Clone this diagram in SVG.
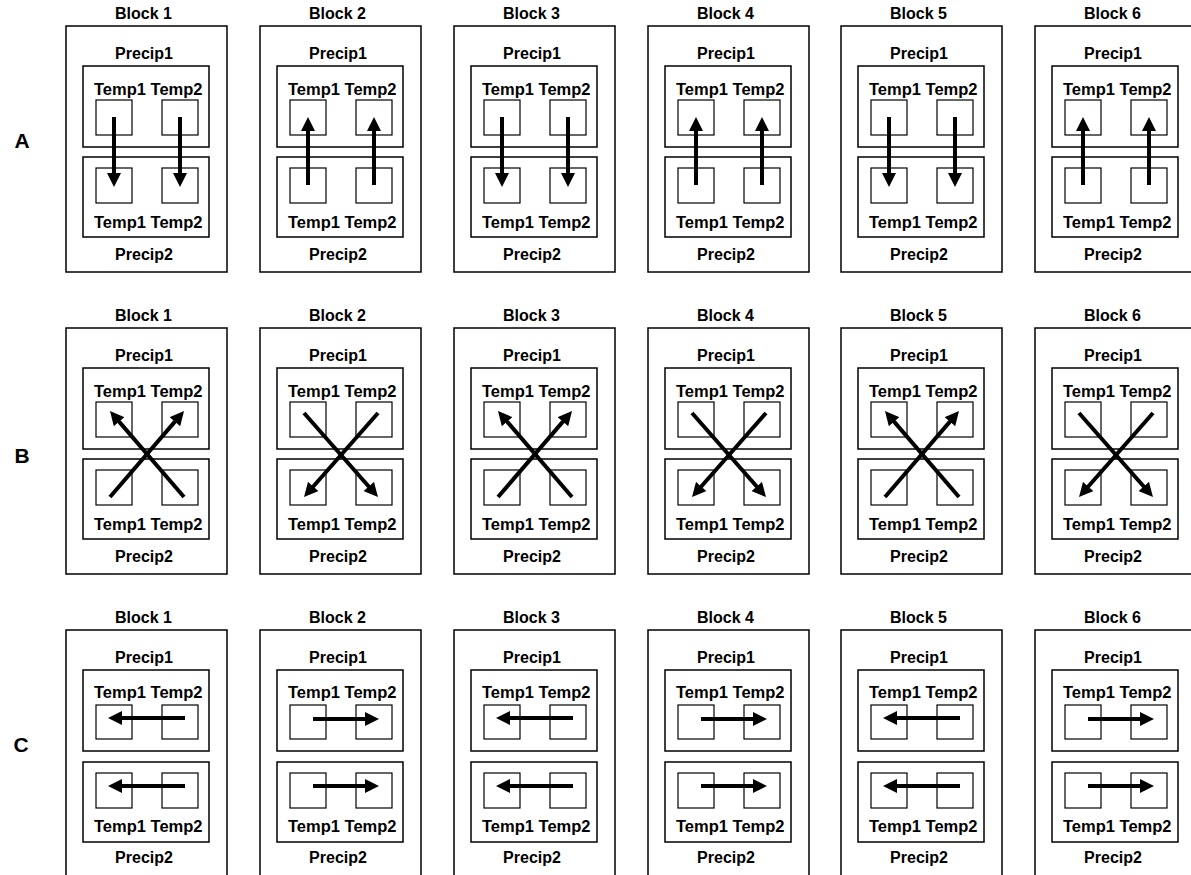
<svg xmlns="http://www.w3.org/2000/svg" width="1191" height="875" viewBox="0 0 1191 875">
<style>
.outer{fill:none;stroke:#000;stroke-width:1.5}
.box{fill:none;stroke:#000;stroke-width:1.5}
.sq{fill:none;stroke:#000;stroke-width:1.2}
.lbl{font-family:"Liberation Sans",Arial,sans-serif;font-weight:bold;font-size:16px;text-anchor:middle;fill:#000}
.tmp{font-family:"Liberation Sans",Arial,sans-serif;font-weight:bold;font-size:16.5px;fill:#000}
.row{font-family:"Liberation Sans",Arial,sans-serif;font-weight:bold;font-size:21px;text-anchor:middle;fill:#000}
.arr{fill:none;stroke:#000;stroke-width:4;marker-end:url(#ah)}
</style>
<defs>
<marker id="ah" markerUnits="userSpaceOnUse" markerWidth="14" markerHeight="14" refX="6" refY="7" orient="auto">
<path d="M0,0 L14,7 L0,14 Z" fill="#000"/>
</marker>
</defs>
<rect x="0" y="0" width="1191" height="875" fill="#fff"/>

<g id="row-labels">
<text class="row" x="22" y="148">A</text>
<text class="row" x="22" y="463">B</text>
<text class="row" x="21" y="752">C</text>
</g>

<!-- Row A -->
<g id="A1" transform="translate(66,26)"><rect class="outer" x="0" y="0" width="161" height="246"/><text class="lbl" x="77.5" y="-7">Block 1</text><text class="lbl" x="78" y="33">Precip1</text><rect class="box" x="17" y="40" width="126" height="81"/><text class="tmp" x="28" y="69">Temp1 Temp2</text><rect class="sq" x="30" y="74" width="36" height="35"/><rect class="sq" x="96" y="74" width="36" height="35"/><rect class="box" x="17" y="131" width="126" height="80"/><rect class="sq" x="30" y="142" width="36" height="35"/><rect class="sq" x="96" y="142" width="36" height="35"/><text class="tmp" x="28" y="201.5">Temp1 Temp2</text><text class="lbl" x="78" y="234">Precip2</text></g>
<g id="A2" transform="translate(260,26)"><rect class="outer" x="0" y="0" width="161" height="246"/><text class="lbl" x="77.5" y="-7">Block 2</text><text class="lbl" x="78" y="33">Precip1</text><rect class="box" x="17" y="40" width="126" height="81"/><text class="tmp" x="28" y="69">Temp1 Temp2</text><rect class="sq" x="30" y="74" width="36" height="35"/><rect class="sq" x="96" y="74" width="36" height="35"/><rect class="box" x="17" y="131" width="126" height="80"/><rect class="sq" x="30" y="142" width="36" height="35"/><rect class="sq" x="96" y="142" width="36" height="35"/><text class="tmp" x="28" y="201.5">Temp1 Temp2</text><text class="lbl" x="78" y="234">Precip2</text></g>
<g id="A3" transform="translate(454,26)"><rect class="outer" x="0" y="0" width="161" height="246"/><text class="lbl" x="77.5" y="-7">Block 3</text><text class="lbl" x="78" y="33">Precip1</text><rect class="box" x="17" y="40" width="126" height="81"/><text class="tmp" x="28" y="69">Temp1 Temp2</text><rect class="sq" x="30" y="74" width="36" height="35"/><rect class="sq" x="96" y="74" width="36" height="35"/><rect class="box" x="17" y="131" width="126" height="80"/><rect class="sq" x="30" y="142" width="36" height="35"/><rect class="sq" x="96" y="142" width="36" height="35"/><text class="tmp" x="28" y="201.5">Temp1 Temp2</text><text class="lbl" x="78" y="234">Precip2</text></g>
<g id="A4" transform="translate(648,26)"><rect class="outer" x="0" y="0" width="161" height="246"/><text class="lbl" x="77.5" y="-7">Block 4</text><text class="lbl" x="78" y="33">Precip1</text><rect class="box" x="17" y="40" width="126" height="81"/><text class="tmp" x="28" y="69">Temp1 Temp2</text><rect class="sq" x="30" y="74" width="36" height="35"/><rect class="sq" x="96" y="74" width="36" height="35"/><rect class="box" x="17" y="131" width="126" height="80"/><rect class="sq" x="30" y="142" width="36" height="35"/><rect class="sq" x="96" y="142" width="36" height="35"/><text class="tmp" x="28" y="201.5">Temp1 Temp2</text><text class="lbl" x="78" y="234">Precip2</text></g>
<g id="A5" transform="translate(841,26)"><rect class="outer" x="0" y="0" width="161" height="246"/><text class="lbl" x="77.5" y="-7">Block 5</text><text class="lbl" x="78" y="33">Precip1</text><rect class="box" x="17" y="40" width="126" height="81"/><text class="tmp" x="28" y="69">Temp1 Temp2</text><rect class="sq" x="30" y="74" width="36" height="35"/><rect class="sq" x="96" y="74" width="36" height="35"/><rect class="box" x="17" y="131" width="126" height="80"/><rect class="sq" x="30" y="142" width="36" height="35"/><rect class="sq" x="96" y="142" width="36" height="35"/><text class="tmp" x="28" y="201.5">Temp1 Temp2</text><text class="lbl" x="78" y="234">Precip2</text></g>
<g id="A6" transform="translate(1035,26)"><rect class="outer" x="0" y="0" width="161" height="246"/><text class="lbl" x="77.5" y="-7">Block 6</text><text class="lbl" x="78" y="33">Precip1</text><rect class="box" x="17" y="40" width="126" height="81"/><text class="tmp" x="28" y="69">Temp1 Temp2</text><rect class="sq" x="30" y="74" width="36" height="35"/><rect class="sq" x="96" y="74" width="36" height="35"/><rect class="box" x="17" y="131" width="126" height="80"/><rect class="sq" x="30" y="142" width="36" height="35"/><rect class="sq" x="96" y="142" width="36" height="35"/><text class="tmp" x="28" y="201.5">Temp1 Temp2</text><text class="lbl" x="78" y="234">Precip2</text></g>

<!-- Row B -->
<g id="B1" transform="translate(66,328)"><rect class="outer" x="0" y="0" width="161" height="246"/><text class="lbl" x="77.5" y="-7">Block 1</text><text class="lbl" x="78" y="33">Precip1</text><rect class="box" x="17" y="40" width="126" height="81"/><text class="tmp" x="28" y="69">Temp1 Temp2</text><rect class="sq" x="30" y="74" width="36" height="35"/><rect class="sq" x="96" y="74" width="36" height="35"/><rect class="box" x="17" y="131" width="126" height="80"/><rect class="sq" x="30" y="142" width="36" height="35"/><rect class="sq" x="96" y="142" width="36" height="35"/><text class="tmp" x="28" y="201.5">Temp1 Temp2</text><text class="lbl" x="78" y="234">Precip2</text></g>
<g id="B2" transform="translate(260,328)"><rect class="outer" x="0" y="0" width="161" height="246"/><text class="lbl" x="77.5" y="-7">Block 2</text><text class="lbl" x="78" y="33">Precip1</text><rect class="box" x="17" y="40" width="126" height="81"/><text class="tmp" x="28" y="69">Temp1 Temp2</text><rect class="sq" x="30" y="74" width="36" height="35"/><rect class="sq" x="96" y="74" width="36" height="35"/><rect class="box" x="17" y="131" width="126" height="80"/><rect class="sq" x="30" y="142" width="36" height="35"/><rect class="sq" x="96" y="142" width="36" height="35"/><text class="tmp" x="28" y="201.5">Temp1 Temp2</text><text class="lbl" x="78" y="234">Precip2</text></g>
<g id="B3" transform="translate(454,328)"><rect class="outer" x="0" y="0" width="161" height="246"/><text class="lbl" x="77.5" y="-7">Block 3</text><text class="lbl" x="78" y="33">Precip1</text><rect class="box" x="17" y="40" width="126" height="81"/><text class="tmp" x="28" y="69">Temp1 Temp2</text><rect class="sq" x="30" y="74" width="36" height="35"/><rect class="sq" x="96" y="74" width="36" height="35"/><rect class="box" x="17" y="131" width="126" height="80"/><rect class="sq" x="30" y="142" width="36" height="35"/><rect class="sq" x="96" y="142" width="36" height="35"/><text class="tmp" x="28" y="201.5">Temp1 Temp2</text><text class="lbl" x="78" y="234">Precip2</text></g>
<g id="B4" transform="translate(648,328)"><rect class="outer" x="0" y="0" width="161" height="246"/><text class="lbl" x="77.5" y="-7">Block 4</text><text class="lbl" x="78" y="33">Precip1</text><rect class="box" x="17" y="40" width="126" height="81"/><text class="tmp" x="28" y="69">Temp1 Temp2</text><rect class="sq" x="30" y="74" width="36" height="35"/><rect class="sq" x="96" y="74" width="36" height="35"/><rect class="box" x="17" y="131" width="126" height="80"/><rect class="sq" x="30" y="142" width="36" height="35"/><rect class="sq" x="96" y="142" width="36" height="35"/><text class="tmp" x="28" y="201.5">Temp1 Temp2</text><text class="lbl" x="78" y="234">Precip2</text></g>
<g id="B5" transform="translate(841,328)"><rect class="outer" x="0" y="0" width="161" height="246"/><text class="lbl" x="77.5" y="-7">Block 5</text><text class="lbl" x="78" y="33">Precip1</text><rect class="box" x="17" y="40" width="126" height="81"/><text class="tmp" x="28" y="69">Temp1 Temp2</text><rect class="sq" x="30" y="74" width="36" height="35"/><rect class="sq" x="96" y="74" width="36" height="35"/><rect class="box" x="17" y="131" width="126" height="80"/><rect class="sq" x="30" y="142" width="36" height="35"/><rect class="sq" x="96" y="142" width="36" height="35"/><text class="tmp" x="28" y="201.5">Temp1 Temp2</text><text class="lbl" x="78" y="234">Precip2</text></g>
<g id="B6" transform="translate(1035,328)"><rect class="outer" x="0" y="0" width="161" height="246"/><text class="lbl" x="77.5" y="-7">Block 6</text><text class="lbl" x="78" y="33">Precip1</text><rect class="box" x="17" y="40" width="126" height="81"/><text class="tmp" x="28" y="69">Temp1 Temp2</text><rect class="sq" x="30" y="74" width="36" height="35"/><rect class="sq" x="96" y="74" width="36" height="35"/><rect class="box" x="17" y="131" width="126" height="80"/><rect class="sq" x="30" y="142" width="36" height="35"/><rect class="sq" x="96" y="142" width="36" height="35"/><text class="tmp" x="28" y="201.5">Temp1 Temp2</text><text class="lbl" x="78" y="234">Precip2</text></g>

<!-- Row C -->
<g id="C1" transform="translate(66,630)"><rect class="outer" x="0" y="0" width="161" height="246"/><text class="lbl" x="77.5" y="-7">Block 1</text><text class="lbl" x="78" y="33">Precip1</text><rect class="box" x="17" y="40" width="126" height="81"/><text class="tmp" x="28" y="68">Temp1 Temp2</text><rect class="sq" x="30" y="75" width="36" height="34"/><rect class="sq" x="96" y="75" width="36" height="34"/><rect class="box" x="17" y="132" width="126" height="80"/><rect class="sq" x="30" y="143" width="36" height="35"/><rect class="sq" x="96" y="143" width="36" height="35"/><text class="tmp" x="28" y="202">Temp1 Temp2</text><text class="lbl" x="78" y="233">Precip2</text></g>
<g id="C2" transform="translate(260,630)"><rect class="outer" x="0" y="0" width="161" height="246"/><text class="lbl" x="77.5" y="-7">Block 2</text><text class="lbl" x="78" y="33">Precip1</text><rect class="box" x="17" y="40" width="126" height="81"/><text class="tmp" x="28" y="68">Temp1 Temp2</text><rect class="sq" x="30" y="75" width="36" height="34"/><rect class="sq" x="96" y="75" width="36" height="34"/><rect class="box" x="17" y="132" width="126" height="80"/><rect class="sq" x="30" y="143" width="36" height="35"/><rect class="sq" x="96" y="143" width="36" height="35"/><text class="tmp" x="28" y="202">Temp1 Temp2</text><text class="lbl" x="78" y="233">Precip2</text></g>
<g id="C3" transform="translate(454,630)"><rect class="outer" x="0" y="0" width="161" height="246"/><text class="lbl" x="77.5" y="-7">Block 3</text><text class="lbl" x="78" y="33">Precip1</text><rect class="box" x="17" y="40" width="126" height="81"/><text class="tmp" x="28" y="68">Temp1 Temp2</text><rect class="sq" x="30" y="75" width="36" height="34"/><rect class="sq" x="96" y="75" width="36" height="34"/><rect class="box" x="17" y="132" width="126" height="80"/><rect class="sq" x="30" y="143" width="36" height="35"/><rect class="sq" x="96" y="143" width="36" height="35"/><text class="tmp" x="28" y="202">Temp1 Temp2</text><text class="lbl" x="78" y="233">Precip2</text></g>
<g id="C4" transform="translate(648,630)"><rect class="outer" x="0" y="0" width="161" height="246"/><text class="lbl" x="77.5" y="-7">Block 4</text><text class="lbl" x="78" y="33">Precip1</text><rect class="box" x="17" y="40" width="126" height="81"/><text class="tmp" x="28" y="68">Temp1 Temp2</text><rect class="sq" x="30" y="75" width="36" height="34"/><rect class="sq" x="96" y="75" width="36" height="34"/><rect class="box" x="17" y="132" width="126" height="80"/><rect class="sq" x="30" y="143" width="36" height="35"/><rect class="sq" x="96" y="143" width="36" height="35"/><text class="tmp" x="28" y="202">Temp1 Temp2</text><text class="lbl" x="78" y="233">Precip2</text></g>
<g id="C5" transform="translate(841,630)"><rect class="outer" x="0" y="0" width="161" height="246"/><text class="lbl" x="77.5" y="-7">Block 5</text><text class="lbl" x="78" y="33">Precip1</text><rect class="box" x="17" y="40" width="126" height="81"/><text class="tmp" x="28" y="68">Temp1 Temp2</text><rect class="sq" x="30" y="75" width="36" height="34"/><rect class="sq" x="96" y="75" width="36" height="34"/><rect class="box" x="17" y="132" width="126" height="80"/><rect class="sq" x="30" y="143" width="36" height="35"/><rect class="sq" x="96" y="143" width="36" height="35"/><text class="tmp" x="28" y="202">Temp1 Temp2</text><text class="lbl" x="78" y="233">Precip2</text></g>
<g id="C6" transform="translate(1035,630)"><rect class="outer" x="0" y="0" width="161" height="246"/><text class="lbl" x="77.5" y="-7">Block 6</text><text class="lbl" x="78" y="33">Precip1</text><rect class="box" x="17" y="40" width="126" height="81"/><text class="tmp" x="28" y="68">Temp1 Temp2</text><rect class="sq" x="30" y="75" width="36" height="34"/><rect class="sq" x="96" y="75" width="36" height="34"/><rect class="box" x="17" y="132" width="126" height="80"/><rect class="sq" x="30" y="143" width="36" height="35"/><rect class="sq" x="96" y="143" width="36" height="35"/><text class="tmp" x="28" y="202">Temp1 Temp2</text><text class="lbl" x="78" y="233">Precip2</text></g>

<g id="connectors">
<!-- Row A: down in 1,3,5; up in 2,4,6 -->
<g transform="translate(66,26)"><line class="arr" x1="48" y1="91" x2="48" y2="153"/><line class="arr" x1="114" y1="91" x2="114" y2="153"/></g>
<g transform="translate(260,26)"><line class="arr" x1="48" y1="159" x2="48" y2="99"/><line class="arr" x1="114" y1="159" x2="114" y2="99"/></g>
<g transform="translate(454,26)"><line class="arr" x1="48" y1="91" x2="48" y2="153"/><line class="arr" x1="114" y1="91" x2="114" y2="153"/></g>
<g transform="translate(648,26)"><line class="arr" x1="48" y1="159" x2="48" y2="99"/><line class="arr" x1="114" y1="159" x2="114" y2="99"/></g>
<g transform="translate(841,26)"><line class="arr" x1="48" y1="91" x2="48" y2="153"/><line class="arr" x1="114" y1="91" x2="114" y2="153"/></g>
<g transform="translate(1035,26)"><line class="arr" x1="48" y1="159" x2="48" y2="99"/><line class="arr" x1="114" y1="159" x2="114" y2="99"/></g>
<!-- Row B: up diagonals in 1,3,5; down in 2,4,6 -->
<g transform="translate(66,328)"><line class="arr" x1="44" y1="169" x2="112.8" y2="89.1"/><line class="arr" x1="118" y1="169" x2="49.2" y2="89.1"/></g>
<g transform="translate(260,328)"><line class="arr" x1="118" y1="85" x2="49.3" y2="163"/><line class="arr" x1="44" y1="85" x2="112.7" y2="163"/></g>
<g transform="translate(454,328)"><line class="arr" x1="44" y1="169" x2="112.8" y2="89.1"/><line class="arr" x1="118" y1="169" x2="49.2" y2="89.1"/></g>
<g transform="translate(648,328)"><line class="arr" x1="118" y1="85" x2="49.3" y2="163"/><line class="arr" x1="44" y1="85" x2="112.7" y2="163"/></g>
<g transform="translate(841,328)"><line class="arr" x1="44" y1="169" x2="112.8" y2="89.1"/><line class="arr" x1="118" y1="169" x2="49.2" y2="89.1"/></g>
<g transform="translate(1035,328)"><line class="arr" x1="118" y1="85" x2="49.3" y2="163"/><line class="arr" x1="44" y1="85" x2="112.7" y2="163"/></g>
<!-- Row C: left in 1,3,5; right in 2,4,6 -->
<g transform="translate(66,630)"><line class="arr" x1="119" y1="88" x2="50" y2="88"/><line class="arr" x1="119" y1="156" x2="50" y2="156"/></g>
<g transform="translate(260,630)"><line class="arr" x1="53" y1="89" x2="111" y2="89"/><line class="arr" x1="53" y1="156" x2="111" y2="156"/></g>
<g transform="translate(454,630)"><line class="arr" x1="119" y1="88" x2="50" y2="88"/><line class="arr" x1="119" y1="156" x2="50" y2="156"/></g>
<g transform="translate(648,630)"><line class="arr" x1="53" y1="89" x2="111" y2="89"/><line class="arr" x1="53" y1="156" x2="111" y2="156"/></g>
<g transform="translate(841,630)"><line class="arr" x1="119" y1="88" x2="50" y2="88"/><line class="arr" x1="119" y1="156" x2="50" y2="156"/></g>
<g transform="translate(1035,630)"><line class="arr" x1="53" y1="89" x2="111" y2="89"/><line class="arr" x1="53" y1="156" x2="111" y2="156"/></g>
</g>
</svg>
